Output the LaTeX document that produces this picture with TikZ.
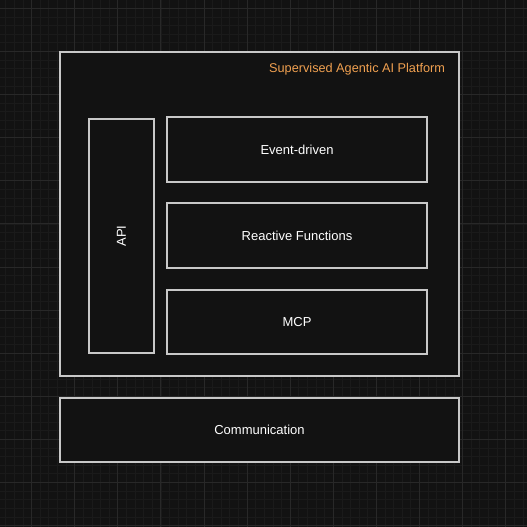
\documentclass[tikz,border=0pt]{standalone}
\usepackage{fontspec}
\setmainfont{Liberation Sans}
\definecolor{bg}{HTML}{121212}
\definecolor{gminor}{HTML}{1A1A1A}
\definecolor{gmajor}{HTML}{282828}
\definecolor{edge}{HTML}{C8C8C8}
\definecolor{title}{HTML}{F0A050}
\begin{document}
\begin{tikzpicture}[x=1pt,y=-1pt,
  box/.style={draw=edge,line width=1.1pt,fill=bg,text=white,font=\fontsize{13}{15}\selectfont},
]
\fill[bg] (0,0) rectangle (527,527);
\useasboundingbox (0,0) rectangle (527,527);
\foreach \i in {-4,...,61}{
  \draw[gminor,line width=0.6pt] ({31.5+8.62*\i},0) -- ({31.5+8.62*\i},527);
  \draw[gminor,line width=0.6pt] (0,{8.3+8.62*\i}) -- (527,{8.3+8.62*\i});
}
\foreach \i in {-1,...,12}{
  \draw[gmajor,line width=0.8pt] ({31.5+43.1*\i},0) -- ({31.5+43.1*\i},527);
  \draw[gmajor,line width=0.8pt] (0,{8.3+43.1*\i}) -- (527,{8.3+43.1*\i});
}
\node[box,minimum width=399pt,minimum height=324pt] (platform) at (259.5,214) {};
\node[anchor=east,text=title,font=\fontsize{12.7}{15}\selectfont] (ptitle) at (448.5,69) {Supervised Agentic AI Platform};
\node[box,minimum width=65pt,minimum height=234pt] (api) at (121.5,236) {};
\node[rotate=90,text=white,font=\fontsize{13}{15}\selectfont] (apitext) at (api.center) {API};
\node[box,minimum width=260pt,minimum height=65pt] (event) at (297,149.5) {Event-driven};
\node[box,minimum width=260pt,minimum height=65pt] (reactive) at (297,235.5) {Reactive Functions};
\node[box,minimum width=260pt,minimum height=64pt] (mcp) at (297,322) {MCP};
\node[box,minimum width=399pt,minimum height=64pt] (comm) at (259.5,430) {Communication};
\end{tikzpicture}
\end{document}
